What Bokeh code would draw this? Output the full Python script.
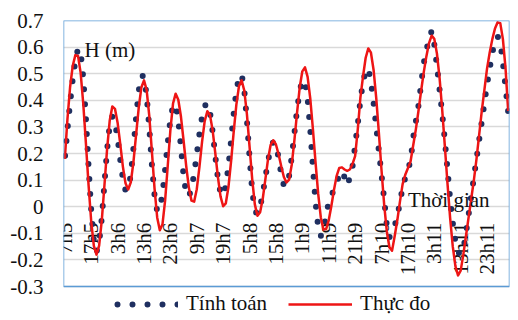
import math
from bokeh.plotting import figure
from bokeh.models import (Range1d, FixedTicker, Label, Legend, LegendItem,
                          ColumnDataSource, BoxAnnotation)
from bokeh.core.properties import value
from bokeh.embed import file_html
from bokeh.resources import INLINE

# hourly index from 7h day 5
hours = list(range(169))

measured = [
    0.18, 0.33, 0.45, 0.53, 0.57, 0.567, 0.503, 0.386, 0.237, 0.081,
    -0.055, -0.147, -0.18, -0.146, -0.052, 0.079, 0.215, 0.323, 0.377, 0.368,
    0.316, 0.236, 0.151, 0.088, 0.065, 0.092, 0.168, 0.27, 0.372, 0.448,
    0.475, 0.439, 0.342, 0.207, 0.068, -0.04, -0.088, -0.066, 0.023, 0.154,
    0.288, 0.388, 0.425, 0.402, 0.339, 0.249, 0.153, 0.072, 0.023, 0.019,
    0.066, 0.149, 0.244, 0.322, 0.359, 0.345, 0.288, 0.203, 0.112, 0.039,
    0.002, 0.013, 0.074, 0.171, 0.282, 0.384, 0.454, 0.475, 0.437, 0.348,
    0.226, 0.104, 0.009, -0.034, -0.021, 0.03, 0.104, 0.179, 0.233, 0.25,
    0.234, 0.197, 0.152, 0.112, 0.091, 0.102, 0.159, 0.25, 0.354, 0.448,
    0.509, 0.524, 0.488, 0.407, 0.293, 0.167, 0.049, -0.04, -0.086, -0.084,
    -0.051, 0.003, 0.064, 0.116, 0.146, 0.148, 0.14, 0.135, 0.14, 0.16,
    0.19, 0.29, 0.41, 0.49, 0.56, 0.595, 0.579, 0.514, 0.409, 0.278,
    0.138, 0.009, -0.092, -0.152, -0.165, -0.11, -0.05, 0.02, 0.085, 0.12,
    0.145, 0.17, 0.23, 0.29, 0.36, 0.435, 0.505, 0.565, 0.615, 0.643,
    0.631, 0.576, 0.484, 0.364, 0.228, 0.088, -0.042, -0.149, -0.223, -0.258,
    -0.24, -0.18, -0.11, -0.04, 0.03, 0.10, 0.18, 0.27, 0.36, 0.44,
    0.52, 0.58, 0.63, 0.67, 0.693, 0.69, 0.63, 0.52, 0.36,
]

computed = [
    0.18, 0.29, 0.39, 0.48, 0.55, 0.595, 0.58, 0.484, 0.331, 0.152,
    -0.013, -0.128, -0.17, -0.136, -0.043, 0.085, 0.213, 0.306, 0.34, 0.317,
    0.257, 0.177, 0.104, 0.061, 0.063, 0.12, 0.22, 0.335, 0.435, 0.492,
    0.491, 0.419, 0.296, 0.157, 0.042, -0.017, -0.008, 0.049, 0.139, 0.241,
    0.328, 0.381, 0.384, 0.326, 0.224, 0.117, 0.047, 0.038, 0.067, 0.124,
    0.197, 0.273, 0.338, 0.379, 0.389, 0.356, 0.283, 0.192, 0.107, 0.052,
    0.042, 0.078, 0.152, 0.249, 0.351, 0.436, 0.489, 0.497, 0.439, 0.325,
    0.186, 0.06, -0.016, -0.027, 0.0, 0.048, 0.111, 0.172, 0.22, 0.244,
    0.233, 0.184, 0.122, 0.079, 0.078, 0.117, 0.188, 0.277, 0.365, 0.436,
    0.475, 0.471, 0.406, 0.29, 0.149, 0.017, -0.076, -0.11, -0.09, -0.03,
    0.015, 0.04, 0.068, 0.09, 0.12, 0.135, 0.11, 0.08, 0.11, 0.15,
    0.23, 0.31, 0.40, 0.47, 0.51, 0.52, 0.47, 0.39, 0.30, 0.21,
    0.12, 0.03, -0.07, -0.115, -0.10, -0.07, -0.04, 0.02, 0.07, 0.11,
    0.14, 0.17, 0.26, 0.32, 0.38, 0.46, 0.54, 0.585, 0.635, 0.66,
    0.61, 0.53, 0.44, 0.35, 0.25, 0.14, 0.03, -0.06, -0.13, -0.17,
    -0.18, -0.16, -0.10, -0.03, 0.04, 0.11, 0.18, 0.25, 0.32, 0.39,
    0.46, 0.52, 0.58, 0.62, 0.64, 0.62, 0.54, 0.45, 0.356,
]

x_tick_index = [0, 10, 20, 30, 40, 50, 60, 70, 80, 90, 100, 110, 120, 130, 140, 150, 160]
x_tick_labels = ["7h5", "17h5", "3h6", "13h6", "23h6", "9h7", "19h7", "5h8", "15h8",
                 "1h9", "11h9", "21h9", "7h10", "17h10", "3h11", "13h11", "23h11"]
y_ticks = [-0.3, -0.2, -0.1, 0, 0.1, 0.2, 0.3, 0.4, 0.5, 0.6, 0.7]
y_tick_labels = ["-0.3", "-0.2", "-0.1", "0", "0.1", "0.2", "0.3", "0.4", "0.5", "0.6", "0.7"]
series_names = ["Tính toán", "Thực đo"]

X_MIN, X_MAX = -0.5, 168.5
Y_MIN, Y_MAX = -0.3, 0.7

FONT = "Liberation Serif"
FS = "21px"
NAVY = "#1f2f60"
RED = "#ee1515"
TXT = "#111111"

# the frame reaches down into the legend strip; the plot area box is drawn
# from Y_MIN to Y_MAX
p = figure(width=518, height=320, output_backend="svg", toolbar_location=None,
           x_range=Range1d(X_MIN, X_MAX), y_range=Range1d(-0.42, Y_MAX),
           x_axis_location=None,
           min_border_left=63, min_border_right=9, min_border_top=20,
           min_border_bottom=2)
p.outline_line_color = None
p.xgrid.grid_line_color = None
p.ygrid.grid_line_color = "#d9d9d9"
p.ygrid.grid_line_width = 1.3
p.ygrid.ticker = FixedTicker(ticks=y_ticks)

p.yaxis.ticker = FixedTicker(ticks=y_ticks)
p.yaxis.major_label_overrides = dict(zip(y_ticks, y_tick_labels))
p.yaxis.axis_line_color = None
p.yaxis.major_tick_line_color = None
p.yaxis.minor_tick_line_color = None
p.yaxis.major_tick_out = 0
p.yaxis.major_tick_in = 0
p.yaxis.minor_tick_out = 0
p.yaxis.major_label_standoff = 20
p.yaxis.major_label_text_font = FONT
p.yaxis.major_label_text_font_size = FS
p.yaxis.major_label_text_color = TXT

p.add_layout(BoxAnnotation(left=X_MIN, right=X_MAX, bottom=Y_MIN, top=Y_MAX,
                           fill_alpha=0, line_color="#5b9bd5", line_alpha=1,
                           line_width=1.5))

# category labels along the zero line
xsrc = ColumnDataSource(dict(x=x_tick_index, y=[0] * len(x_tick_index), t=x_tick_labels))
p.text(x="x", y="y", text="t", source=xsrc, angle=math.pi / 2, text_align="right",
       text_baseline="middle", y_offset=16, text_font=value(FONT),
       text_font_size=value(FS), text_color=TXT)

r_c = p.line(hours, computed, line_color=NAVY, line_width=6, line_dash="0 15",
             line_dash_offset=12, line_cap="round")
r_m = p.line(hours, measured, line_color=RED, line_width=2.5, line_join="round")

p.add_layout(Label(x=7.5, y=0.59, text="H (m)", text_font=FONT, text_font_size=FS,
                   text_baseline="middle", text_color=TXT))
p.add_layout(Label(x=130, y=0.026, text="Thời gian", text_font=FONT, text_font_size=FS,
                   text_baseline="middle", text_color=TXT))

legend = Legend(items=[LegendItem(label=series_names[0], renderers=[r_c]),
                       LegendItem(label=series_names[1], renderers=[r_m])],
                orientation="horizontal", location=(51, 2),
                label_text_font=FONT, label_text_font_size=FS, label_text_color=TXT,
                glyph_width=64, glyph_height=20, label_height=20, label_standoff=8,
                spacing=21, padding=3, margin=0, border_line_color=None,
                background_fill_alpha=0)
p.add_layout(legend)

open("out.html", "w").write(file_html(p, INLINE))
